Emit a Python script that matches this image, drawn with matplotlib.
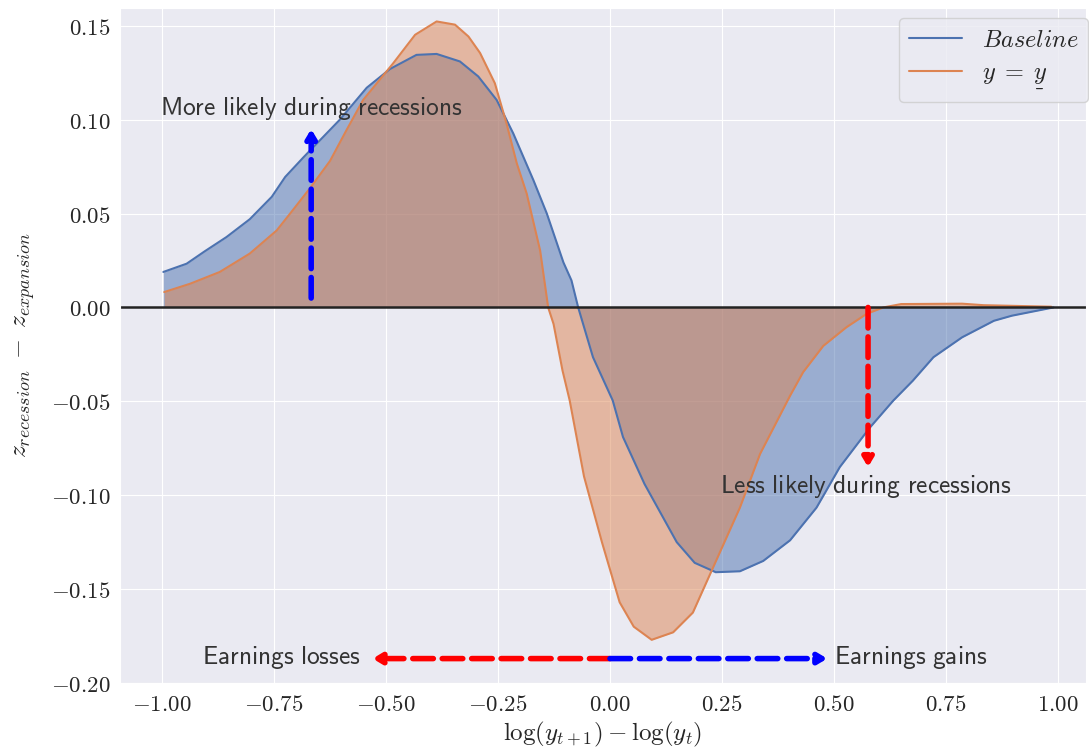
import matplotlib
matplotlib.use("Agg")
import matplotlib.pyplot as plt
from matplotlib.ticker import FuncFormatter
import seaborn as sns

sns.set_style("darkgrid")
plt.rcParams["mathtext.fontset"] = "cm"
plt.rcParams["font.family"] = ["DejaVu Sans"]

# Baseline curve
base_x = [-0.997, -0.945, -0.904, -0.856, -0.804, -0.755, -0.725, -0.684, -0.603,
          -0.543, -0.491, -0.432, -0.387, -0.335, -0.294, -0.253, -0.216, -0.171, -0.141,
          -0.104, -0.086, -0.071, -0.038, 0.006, 0.029, 0.077, 0.149, 0.189, 0.236,
          0.290, 0.342, 0.402, 0.461, 0.513, 0.580, 0.632, 0.676, 0.722,
          0.786, 0.857, 0.897, 0.990]
base_y = [0.0189, 0.0233, 0.030, 0.0375, 0.047, 0.0589, 0.0695, 0.080, 0.100,
          0.117, 0.127, 0.1345, 0.135, 0.131, 0.123, 0.1105, 0.0927, 0.0678, 0.050,
          0.024, 0.0144, 0.0, -0.0265, -0.0495, -0.069, -0.094, -0.125, -0.136, -0.141,
          -0.1405, -0.135, -0.124, -0.1066, -0.085, -0.064, -0.0497, -0.039, -0.0265,
          -0.0159, -0.0071, -0.0044, 0.0]

# y = y_underline curve
low_x = [-0.995, -0.9375, -0.871, -0.804, -0.744, -0.714, -0.670, -0.625, -0.588, -0.551,
         -0.484, -0.435, -0.387, -0.346, -0.316, -0.290, -0.257, -0.231, -0.208, -0.186,
         -0.156, -0.138, -0.126, -0.106, -0.090, -0.058, -0.018, 0.0215, 0.053, 0.093,
         0.141, 0.185, 0.228, 0.290, 0.335, 0.402, 0.431, 0.476, 0.528, 0.573,
         0.610, 0.650, 0.786, 0.834, 0.985]
low_y = [0.0082, 0.0126, 0.0189, 0.0287, 0.041, 0.050, 0.0634, 0.078, 0.0945, 0.1105,
         0.130, 0.1452, 0.1523, 0.1506, 0.1443, 0.1355, 0.1194, 0.098, 0.0767, 0.0607,
         0.0304, 0.0, -0.0088, -0.0336, -0.0495, -0.090, -0.125, -0.157, -0.170, -0.177,
         -0.173, -0.1625, -0.1396, -0.1066, -0.078, -0.047, -0.0345, -0.0205, -0.0105, -0.0034,
         0.0, 0.0018, 0.002, 0.0012, 0.0004]

xticks = [-1.0, -0.75, -0.5, -0.25, 0.0, 0.25, 0.5, 0.75, 1.0]
yticks = [-0.20, -0.15, -0.10, -0.05, 0.0, 0.05, 0.10, 0.15]

# annotation arrows: (start, tip, colour)
arrows = [((-0.667, 0.005), (-0.667, 0.095), "blue"),
          ((0.576, 0.0), (0.576, -0.085), "red"),
          ((0.0, -0.187), (-0.53, -0.187), "red"),
          ((0.0, -0.187), (0.485, -0.187), "blue")]

fig = plt.figure(figsize=(10.89, 7.53), dpi=100)
ax = fig.add_axes([120 / 1089, 70 / 753, 966 / 1089, 675 / 753])

c0, c1 = sns.color_palette("deep")[:2]
ax.plot(base_x, base_y, color=c0, lw=1.5, label=r"$Baseline$")
ax.fill_between(base_x, 0, base_y, color=c0, alpha=0.5, lw=0)
ax.plot(low_x, low_y, color=c1, lw=1.5, label=r"$y\;=\;\underset{\_}{y}$")
ax.fill_between(low_x, 0, low_y, color=c1, alpha=0.5, lw=0)
ax.axhline(0, color="#222222", lw=1.8)

for (sx, sy), (tx, ty), col in arrows:
    ax.annotate("", xy=(tx, ty), xytext=(sx, sy),
                arrowprops=dict(arrowstyle="-|>,head_width=0.3,head_length=0.5",
                                color=col, lw=4, ls="--", shrinkA=0, shrinkB=0))

tcol = "#333333"
fs = 18.3
ax.text(-1.005, 0.1057, r"$\mathsf{More\ likely\ during\ recessions}$", fontsize=fs,
        color=tcol, ha="left", va="center")
ax.text(0.245, -0.0956, r"$\mathsf{Less\ likely\ during\ recessions}$", fontsize=fs,
        color=tcol, ha="left", va="center")
ax.text(-0.556, -0.1865, r"$\mathsf{Earnings\ losses}$", fontsize=fs,
        color=tcol, ha="right", va="center")
ax.text(0.50, -0.1865, r"$\mathsf{Earnings\ gains}$", fontsize=fs,
        color=tcol, ha="left", va="center")

ax.set_xlim(-490 / 448, 476 / 448)
ax.set_ylim(-0.20, 299 / 1875)
ax.set_xticks(xticks)
ax.set_yticks(yticks)
ax.xaxis.set_major_formatter(FuncFormatter(lambda v, p: f"${v:.2f}$"))
ax.yaxis.set_major_formatter(FuncFormatter(lambda v, p: f"${v:.2f}$"))
ax.tick_params(labelsize=16.5)
ax.set_xlabel(r"$\log(y_{t+1}) - \log(y_t)$", fontsize=18, labelpad=3)
ax.set_ylabel(r"$z_{recession}\;-\;z_{expansion}$", fontsize=18.5, labelpad=10)

ax.legend(loc="upper right", bbox_to_anchor=(1.002, 0.985), borderaxespad=0,
          fontsize=17.5, handlelength=2.2, labelspacing=0.35)

fig.savefig("out.png", dpi=100)
